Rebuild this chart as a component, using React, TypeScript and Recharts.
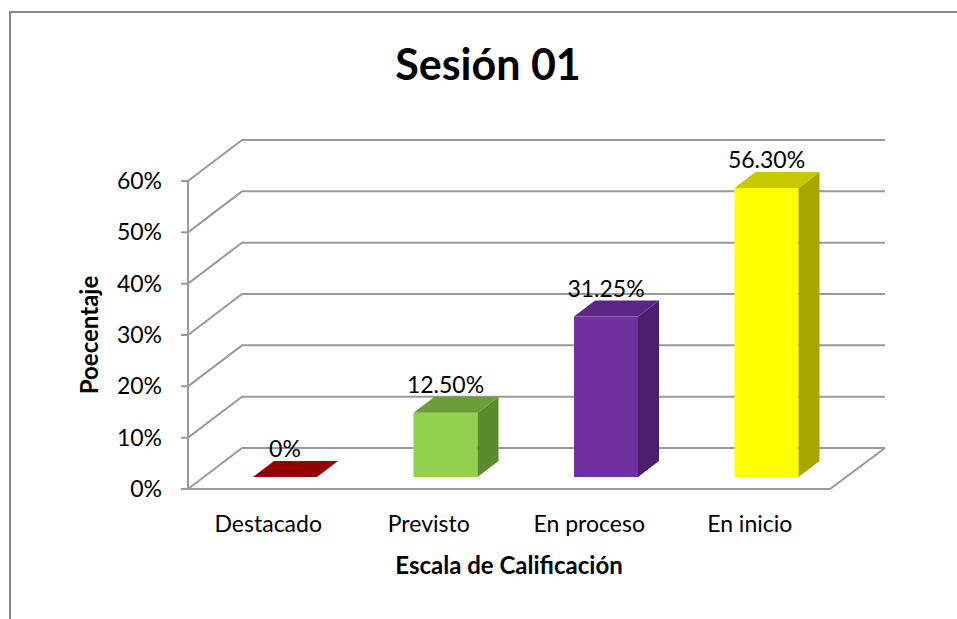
import React from 'react';
import { BarChart, Bar, XAxis, YAxis, CartesianGrid, LabelList, Label } from 'recharts';

const categories = ['Destacado', 'Previsto', 'En proceso', 'En inicio'];
const values = [0, 12.5, 31.25, 56.3];
const valueLabels = ['0%', '12.50%', '31.25%', '56.30%'];
const yTicks = [0, 10, 20, 30, 40, 50, 60];

const FRONT = ['#C00000', '#92D050', '#7030A0', '#FFFF00'];
const TOP = ['#920000', '#6E9C3A', '#5A2684', '#C8C800'];
const SIDE = ['#7A0000', '#5E8A2E', '#4A1F6C', '#A6A600'];

const data = categories.map((name, i) => ({ name, value: values[i], label: valueLabels[i], idx: i }));

const W = 957;
const H = 619;
const FONT = 'Lato, "Open Sans", sans-serif';
const MARGIN = { top: 181, right: 127, bottom: 80, left: 88 };
const YAXIS_W = 100;
const XAXIS_H = 50;
const BAR_DX = 17;
const BAR_DY = -12;
const BD_X = 21;
const BD_Y = -16;
const WALL_DX = 54;
const WALL_DY = -41;
const GRID = '#9a9a9a';

function Bar3D(props: any) {
  const { x, y, width, height, payload } = props;
  const i = payload.idx;
  const h = Math.max(0, height || 0);
  const fx = x + BAR_DX;
  const fy = y + BAR_DY;
  const w = width;
  const top = `${fx},${fy} ${fx + BD_X},${fy + BD_Y} ${fx + w + BD_X},${fy + BD_Y} ${fx + w},${fy}`;
  const side = `${fx + w},${fy} ${fx + w + BD_X},${fy + BD_Y} ${fx + w + BD_X},${fy + h + BD_Y} ${fx + w},${fy + h}`;
  return (
    <g>
      {h > 0 && <rect x={fx} y={fy} width={w} height={h} fill={FRONT[i]} />}
      {h > 0 && <polygon points={side} fill={SIDE[i]} />}
      <polygon points={top} fill={TOP[i]} />
    </g>
  );
}

function ValueLabel(props: any) {
  const { x, y, width, value } = props;
  return (
    <text
      x={x + width / 2 + BAR_DX}
      y={y + BAR_DY + BD_Y - 4}
      textAnchor="middle"
      fontFamily={FONT}
      fontSize={23}
      fill="#000"
    >
      {value}
    </text>
  );
}

function GridLine(props: any) {
  const { x1, x2, y1 } = props;
  const bottom = H - MARGIN.bottom - XAXIS_H;
  const isFloor = Math.abs(y1 - bottom) < 1;
  const d = `M${x1},${y1} L${x1 + WALL_DX},${y1 + WALL_DY} L${x2 + WALL_DX + 1},${y1 + WALL_DY}`;
  return (
    <g key={`g-${y1}`}>
      <path d={d} stroke={GRID} strokeWidth={2} fill="none" />
      {isFloor && (
        <path
          d={`M${x1},${y1} L${x2},${y1} L${x2 + WALL_DX + 1},${y1 + WALL_DY}`}
          stroke={GRID}
          strokeWidth={2}
          fill="none"
        />
      )}
    </g>
  );
}

export default function App() {
  return (
    <div style={{ position: 'absolute', left: 0, top: 0, width: W, height: H, overflow: 'hidden', background: '#fff' }}>
      <div
        style={{
          position: 'absolute',
          left: 9,
          top: 11,
          width: 1100,
          height: 800,
          border: '2px solid #888',
          boxSizing: 'border-box',
        }}
      />
      <div style={{ position: 'absolute', left: 0, top: 0 }}>
        <BarChart width={W} height={H} data={data} margin={MARGIN} barSize={64}>
          <CartesianGrid vertical={false} horizontal={GridLine as any} />
          <XAxis
            dataKey="name"
            height={XAXIS_H}
            axisLine={{ stroke: GRID, strokeWidth: 2 }}
            tickLine={false}
            tickSize={0}
            tickMargin={27}
            tick={{ fontSize: 23, fill: '#000', fontFamily: FONT }}
          >
            <Label
              content={(p: any) => {
                const vb = p.viewBox;
                return (
                  <text
                    x={vb.x + vb.width / 2}
                    y={vb.y + 85}
                    textAnchor="middle"
                    fontFamily={FONT}
                    fontWeight="bold"
                    fontSize={24}
                    fill="#000"
                  >
                    Escala de Calificación
                  </text>
                );
              }}
            />
          </XAxis>
          <YAxis
            width={YAXIS_W}
            domain={[0, 60]}
            ticks={yTicks}
            interval={0}
            tickFormatter={(v: number) => `${v}%`}
            axisLine={{ stroke: GRID, strokeWidth: 2 }}
            tickLine={{ stroke: GRID, strokeWidth: 2 }}
            tickSize={7}
            tickMargin={19}
            tick={{ fontSize: 23, fill: '#000', fontFamily: FONT }}
          >
            <Label
              content={(p: any) => {
                const vb = p.viewBox;
                const cx = vb.x + 10;
                const cy = vb.y + vb.height / 2;
                return (
                  <text
                    x={cx}
                    y={cy}
                    transform={`rotate(-90, ${cx}, ${cy})`}
                    textAnchor="middle"
                    fontFamily={FONT}
                    fontWeight="bold"
                    fontSize={24}
                    fill="#000"
                  >
                    Poecentaje
                  </text>
                );
              }}
            />
          </YAxis>
          <Bar dataKey="value" isAnimationActive={false} shape={Bar3D as any}>
            <LabelList dataKey="label" content={ValueLabel as any} />
          </Bar>
        </BarChart>
      </div>
      <svg width={W} height={H} style={{ position: 'absolute', left: 0, top: 0, pointerEvents: 'none' }}>
        <text x={488} y={80} textAnchor="middle" fontFamily={FONT} fontWeight="bold" fontSize={43} fill="#000">
          Sesión 01
        </text>
      </svg>
    </div>
  );
}
